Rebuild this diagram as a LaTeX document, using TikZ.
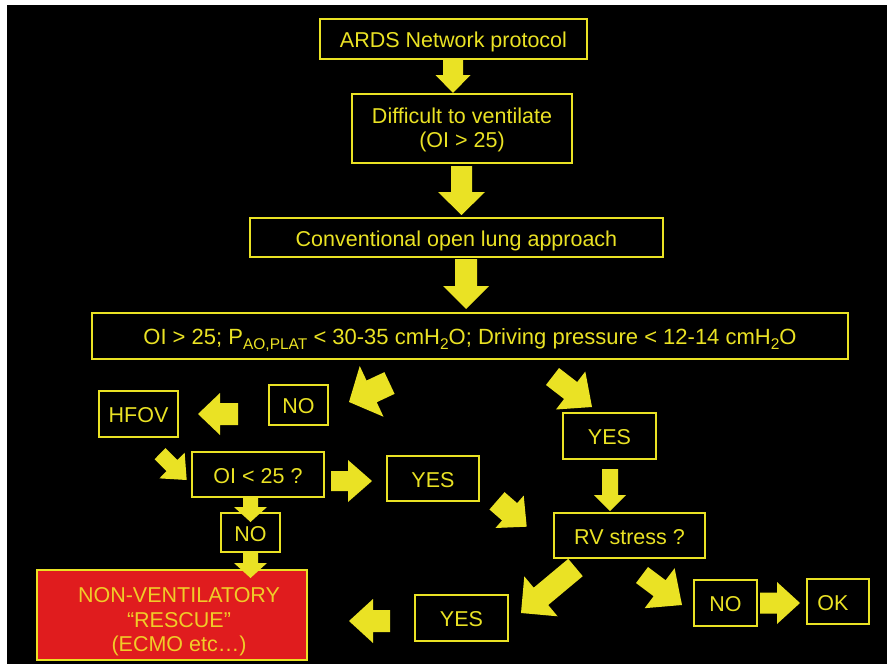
\documentclass[tikz,border=0pt]{standalone}
\usepackage{fontspec}
\setmainfont{Liberation Sans}
\usetikzlibrary{calc}
\definecolor{yel}{RGB}{234,226,36}
\definecolor{redfill}{RGB}{224,28,30}
\definecolor{redtext}{RGB}{240,204,40}
\newcommand\blockarrow[5]{%
  \coordinate (bh) at ($(#2)!#5!(#1)$);
  \fill[yel] ($(#1)!#3!90:(#2)$) -- ($(bh)!#3!90:(#2)$) -- ($(bh)!#4!90:(#2)$) -- (#2)
    -- ($(bh)!#4!-90:(#2)$) -- ($(bh)!#3!-90:(#2)$) -- ($(#1)!#3!-90:(#2)$) -- cycle;}
\newcommand\lowsub[1]{\raisebox{-5pt}{\fontsize{15.5}{15.5}\selectfont #1}}
\begin{document}
\begin{tikzpicture}[x=1pt,y=-1pt,
  box/.style={draw=yel, line width=1.8pt, text=yel, inner sep=0pt, align=center,
    text height=17pt, text depth=0pt, font=\fontsize{21.5}{25}\selectfont},
  frame/.style={draw=yel, line width=1.8pt, inner sep=0pt},
  multitext/.style={text=yel, inner sep=0pt, align=center, font=\fontsize{21.5}{24.5}\selectfont},
  redbox/.style={frame, fill=redfill}]
\fill[white] (0,0) rectangle (887,664);
\fill[black] (7,5) rectangle (887,664);
\useasboundingbox (0,0) rectangle (887,664);

% boxes
\node[box, minimum width=267pt, minimum height=40pt] (ards) at (453.5,39) {ARDS Network protocol};
\node[frame, minimum width=220pt, minimum height=69pt] (diff) at (462,128.5) {};
\node[multitext] (difftext) at (462,130) {Difficult to ventilate\\(OI > 25)};
\node[box, minimum width=413pt, minimum height=39pt] (conv) at (456.5,237.5) {Conventional open lung approach};
\node[box, minimum width=756pt, minimum height=46pt, font=\fontsize{22}{25}\selectfont] (crit) at (470,336)
  {OI > 25; P\lowsub{AO,PLAT} < 30-35 cmH\lowsub{2}O; Driving pressure < 12-14 cmH\lowsub{2}O};
\node[box, minimum width=59pt, minimum height=40pt] (no1) at (298.5,405) {NO};
\node[box, minimum width=79pt, minimum height=46pt] (hfov) at (138.5,414) {HFOV};
\node[box, minimum width=132pt, minimum height=45pt] (oi) at (258,474.5) {OI < 25 ?};
\node[box, minimum width=92pt, minimum height=45pt] (yes1) at (433,478.5) {YES};
\node[box, minimum width=59pt, minimum height=39pt] (no2) at (250.5,532.5) {NO};
\node[redbox, minimum width=270pt, minimum height=90pt] (rescue) at (172,615) {};
\node[multitext, text=redtext] (rescuetext) at (179,622) {NON-VENTILATORY\\“RESCUE”\\(ECMO etc…)};
\node[box, minimum width=93pt, minimum height=46pt] (yes2) at (609.5,436) {YES};
\node[box, minimum width=151pt, minimum height=45pt] (rv) at (629.5,535.5) {RV stress ?};
\node[box, minimum width=93pt, minimum height=46pt] (yes3) at (461.5,618) {YES};
\node[box, minimum width=63pt, minimum height=46pt] (no3) at (725.5,603) {NO};
\node[box, minimum width=62pt, minimum height=45pt] (ok) at (838,601.5) {OK\hspace*{10pt}};

% connector end points
\coordinate (a1s) at (453,58);      \coordinate (a1e) at (453,93);
\coordinate (a2s) at (461.5,166);   \coordinate (a2e) at (461.5,215);
\coordinate (a3s) at (466,259);     \coordinate (a3e) at (466,309);
\coordinate (b1s) at (389.5,383);   \coordinate (b1e) at (349,402);
\coordinate (b2s) at (552.5,376.5); \coordinate (b2e) at (592,407);
\coordinate (c1s) at (238,414);     \coordinate (c1e) at (198,414);
\coordinate (c2s) at (160,453.7);   \coordinate (c2e) at (186.7,480);
\coordinate (c3s) at (331,481);     \coordinate (c3e) at (372,481);
\coordinate (c4s) at (250.5,497);   \coordinate (c4e) at (250.5,522);
\coordinate (c5s) at (250.5,552);   \coordinate (c5e) at (250.5,578);
\coordinate (d1s) at (390,621);     \coordinate (d1e) at (349,621);
\coordinate (d2s) at (610,469);     \coordinate (d2e) at (610,511);
\coordinate (d3s) at (497,500.8);   \coordinate (d3e) at (526.7,526.7);
\coordinate (d4s) at (575.5,567.5); \coordinate (d4e) at (521,613);
\coordinate (d5s) at (642,575);     \coordinate (d5e) at (682,605);
\coordinate (d6s) at (760,603);     \coordinate (d6e) at (800,603);

% block arrows
\blockarrow{a1s}{a1e}{10pt}{17.5pt}{18pt}
\blockarrow{a2s}{a2e}{10.5pt}{23.5pt}{23pt}
\blockarrow{a3s}{a3e}{11pt}{23pt}{23pt}
\blockarrow{b1s}{b1e}{12pt}{28pt}{25pt}
\blockarrow{b2s}{b2e}{10.7pt}{24pt}{27pt}
\blockarrow{c1s}{c1e}{11pt}{21pt}{22pt}
\blockarrow{c2s}{c2e}{7.8pt}{18pt}{20.6pt}
\blockarrow{c3s}{c3e}{10pt}{21pt}{24pt}
\blockarrow{c4s}{c4e}{7.5pt}{16.5pt}{15pt}
\blockarrow{c5s}{c5e}{7.5pt}{16.5pt}{15pt}
\blockarrow{d1s}{d1e}{11pt}{22pt}{24pt}
\blockarrow{d2s}{d2e}{8pt}{16pt}{16pt}
\blockarrow{d3s}{d3e}{11.5pt}{21.5pt}{22.7pt}
\blockarrow{d4s}{d4e}{11.3pt}{26pt}{26pt}
\blockarrow{d5s}{d5e}{10pt}{25pt}{28pt}
\blockarrow{d6s}{d6e}{10.5pt}{21pt}{23pt}
\end{tikzpicture}
\end{document}
